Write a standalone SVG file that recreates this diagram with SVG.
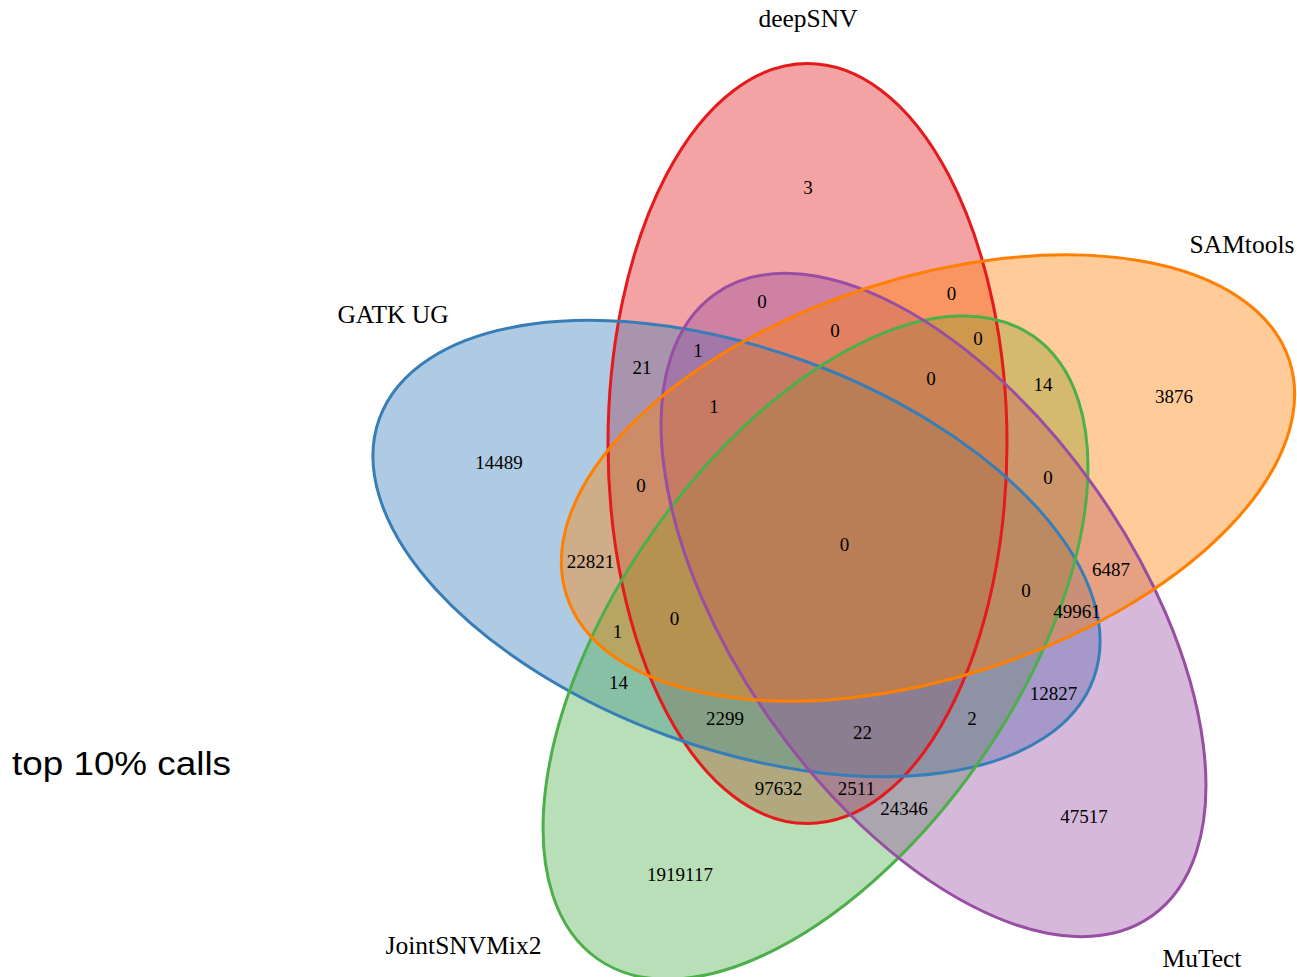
<svg xmlns="http://www.w3.org/2000/svg" width="1297" height="977" viewBox="0 0 1297 977">
<style>
.f{fill-opacity:0.4;stroke:none}
.s{fill:none;stroke-width:3}
.n{font-family:"Liberation Serif","Times New Roman",serif;font-size:19px;fill:#000;text-anchor:middle}
.c{font-family:"Liberation Serif","Times New Roman",serif;font-size:25.5px;fill:#000;text-anchor:middle}
.t{font-family:"Liberation Sans",Arial,sans-serif;font-size:33px;fill:#000}
</style>
<defs>
<ellipse id="e" cx="0" cy="0" rx="199.5" ry="380"/>
</defs>
<g id="fills">
<use href="#e" class="f" fill="#E41A1C" transform="translate(807.5 443.5)"/>
<use href="#e" class="f" fill="#377EB8" transform="translate(736.5 548.5) rotate(290)"/>
<use href="#e" class="f" fill="#4DAF4A" transform="translate(815.5 647.6) rotate(215)"/>
<use href="#e" class="f" fill="#984EA3" transform="translate(933.5 605) rotate(145)"/>
<use href="#e" class="f" fill="#FF7F00" transform="translate(928 478) rotate(72)"/>
</g>
<g id="deepSNV"><use href="#e" class="s" stroke="#E41A1C" transform="translate(807.5 443.5)"/><text class="c" x="808" y="27">deepSNV</text></g>
<g id="GATK_UG"><use href="#e" class="s" stroke="#377EB8" transform="translate(736.5 548.5) rotate(290)"/><text class="c" x="393" y="323">GATK UG</text></g>
<g id="JointSNVMix2"><use href="#e" class="s" stroke="#4DAF4A" transform="translate(815.5 647.6) rotate(215)"/><text class="c" x="463.5" y="954">JointSNVMix2</text></g>
<g id="MuTect"><use href="#e" class="s" stroke="#984EA3" transform="translate(933.5 605) rotate(145)"/><text class="c" x="1202" y="967">MuTect</text></g>
<g id="SAMtools"><use href="#e" class="s" stroke="#FF7F00" transform="translate(928 478) rotate(72)"/><text class="c" x="1242" y="253">SAMtools</text></g>
<g id="counts">
<text class="n" x="808" y="194">3</text>
<text class="n" x="762" y="308">0</text>
<text class="n" x="951.5" y="300">0</text>
<text class="n" x="835" y="337">0</text>
<text class="n" x="978" y="345">0</text>
<text class="n" x="698" y="357">1</text>
<text class="n" x="642" y="374">21</text>
<text class="n" x="1043" y="391">14</text>
<text class="n" x="931" y="385">0</text>
<text class="n" x="714" y="413">1</text>
<text class="n" x="1174" y="403">3876</text>
<text class="n" x="499" y="469">14489</text>
<text class="n" x="641" y="492">0</text>
<text class="n" x="1048" y="484">0</text>
<text class="n" x="844.5" y="551">0</text>
<text class="n" x="590.5" y="568">22821</text>
<text class="n" x="1111" y="576">6487</text>
<text class="n" x="1026" y="597">0</text>
<text class="n" x="1077" y="618">49961</text>
<text class="n" x="617.5" y="638">1</text>
<text class="n" x="674.5" y="625">0</text>
<text class="n" x="618.5" y="689">14</text>
<text class="n" x="1053.5" y="700">12827</text>
<text class="n" x="725" y="725">2299</text>
<text class="n" x="972" y="725">2</text>
<text class="n" x="862.5" y="739">22</text>
<text class="n" x="778.5" y="795">97632</text>
<text class="n" x="856.5" y="795">2511</text>
<text class="n" x="904" y="815">24346</text>
<text class="n" x="1084" y="823">47517</text>
<text class="n" x="680" y="881">1919117</text>
</g>
<text class="t" x="12" y="775" textLength="219" lengthAdjust="spacingAndGlyphs">top 10% calls</text>
</svg>
